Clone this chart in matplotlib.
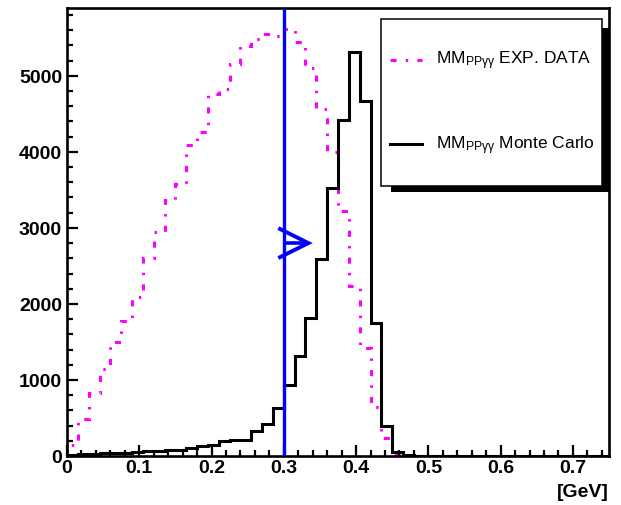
import numpy as np
import matplotlib
matplotlib.use("Agg")
import matplotlib.pyplot as plt
from matplotlib.patches import Rectangle
from matplotlib.ticker import MultipleLocator

plt.rcParams['font.family'] = ['Liberation Sans', 'DejaVu Sans']
plt.rcParams['mathtext.fontset'] = 'custom'
plt.rcParams['mathtext.rm'] = 'Liberation Sans'
plt.rcParams['mathtext.it'] = 'Liberation Sans'

# missing mass histograms, 50 bins of 15 MeV from 0 to 0.75 GeV
x_min, x_max, n_bins = 0.0, 0.75, 50
exp_data = [145, 486, 826, 1143, 1500, 1780, 2085, 2600, 2940, 3370,
            3574, 4085, 4265, 4760, 4830, 5150, 5390, 5490, 5550, 5520,
            5611, 5450, 5100, 4560, 4000, 3220, 2230, 1420, 640, 240,
            20, 0, 0, 0, 0, 0, 0, 0, 0, 0,
            0, 0, 0, 0, 0, 0, 0, 0, 0, 0]
monte_carlo = [15, 25, 30, 35, 40, 45, 55, 60, 65, 83,
               83, 105, 127, 148, 200, 205, 210, 325, 420, 630,
               940, 1310, 1820, 2590, 3520, 4420, 5310, 4670, 1750, 400,
               50, 8, 3, 0, 0, 0, 0, 0, 0, 0,
               0, 0, 0, 0, 0, 0, 0, 0, 0, 0]
cut_value = 0.3
cut_top = 5850
arrow_y = 2800

edges = np.linspace(x_min, x_max, n_bins + 1)

fig = plt.figure(figsize=(6.21, 5.06), dpi=100)
ax = fig.add_axes([67 / 621, 49 / 506, 542 / 621, 448 / 506])

ax.stairs(exp_data, edges, color='#ff00ff', lw=2.2,
          linestyle=(0, (2, 3, 0.8, 3)))
ax.stairs(monte_carlo, edges, color='black', lw=2.2)

ax.set_xlim(x_min, x_max)
ax.set_ylim(0, 1.05 * max(exp_data))

# cut line with arrow
ax.plot([cut_value, cut_value], [0, cut_top], color='#0000ff', lw=2.4, zorder=5)
ax.plot([cut_value, 0.334], [arrow_y, arrow_y], color='#0000ff', lw=2.6,
        solid_capstyle='butt', zorder=5)
ax.plot([0.2948, 0.334, 0.2948], [arrow_y + 185, arrow_y, arrow_y - 185],
        color='#0000ff', lw=2.8, solid_joinstyle='miter', zorder=5)

# ROOT-like frame and ticks
for side in ['left', 'right', 'top', 'bottom']:
    ax.spines[side].set_linewidth(1.9)
ax.xaxis.set_major_locator(MultipleLocator(0.1))
ax.xaxis.set_minor_locator(MultipleLocator(0.02))
ax.yaxis.set_major_locator(MultipleLocator(1000))
ax.yaxis.set_minor_locator(MultipleLocator(200))
ax.tick_params(which='both', direction='in', width=1.6, top=False, right=False)
ax.tick_params(which='major', length=7.8)
ax.tick_params(which='minor', length=4.2)
ax.tick_params(axis='y', pad=3.5)
ax.tick_params(axis='x', pad=2.5)
ax.set_xticks(np.arange(0, 0.71, 0.1))
ax.set_xticklabels(['0', '0.1', '0.2', '0.3', '0.4', '0.5', '0.6', '0.7'])
for lab in ax.get_xticklabels() + ax.get_yticklabels():
    lab.set_fontweight('bold')
    lab.set_fontsize(14)

fig.text(609 / 621, (506 - 493) / 506, '[GeV]', ha='right', va='center',
         fontsize=14, fontweight='bold')


# legend box with shadow, in pixel positions of the canvas
def fx(px):
    return px / 621


def fy(py):
    return (506 - py) / 506


fig.patches.append(Rectangle((fx(391), fy(193)), fx(609) - fx(391), fy(29) - fy(193),
                             transform=fig.transFigure, facecolor='black',
                             edgecolor='none', zorder=10))
fig.patches.append(Rectangle((fx(381), fy(187)), fx(602) - fx(381), fy(20) - fy(187),
                             transform=fig.transFigure, facecolor='white',
                             edgecolor='black', lw=1.1, zorder=11))

fig.lines.append(plt.Line2D([fx(390), fx(422)], [fy(61), fy(61)],
                            transform=fig.transFigure, color='#ff00ff', lw=2.2,
                            linestyle=(0, (2, 3, 0.8, 3)), zorder=12))
fig.lines.append(plt.Line2D([fx(390), fx(422)], [fy(145), fy(145)],
                            transform=fig.transFigure, color='black', lw=2.2,
                            zorder=12))
fig.text(fx(435.5), fy(64.5), r'MM$_{\mathregular{PPγγ}}$ EXP. DATA',
         fontsize=12.5, va='baseline', zorder=13)
fig.text(fx(435.5), fy(149.5), r'MM$_{\mathregular{PPγγ}}$ Monte Carlo',
         fontsize=12.5, va='baseline', zorder=13)

fig.savefig('out.png', dpi=100)
